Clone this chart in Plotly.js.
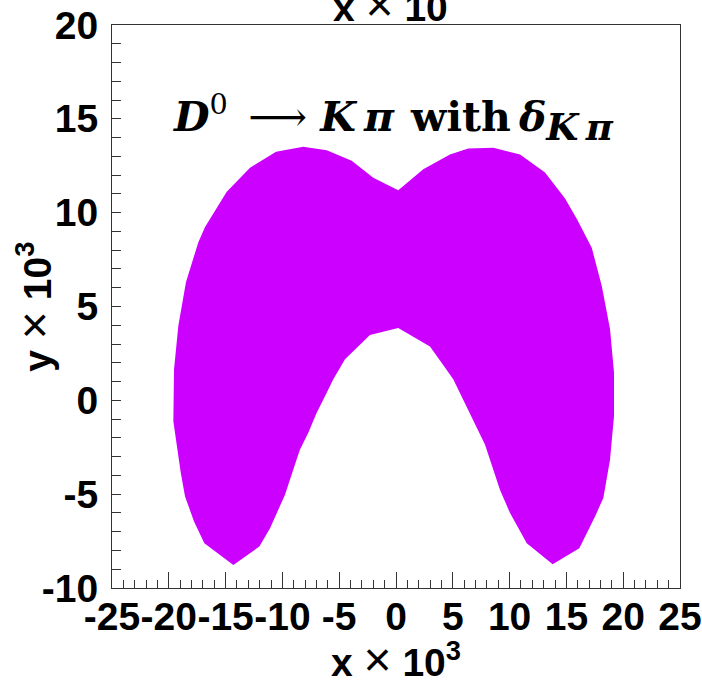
<!DOCTYPE html>
<html>
<head>
<meta charset="utf-8">
<script src="https://cdn.plot.ly/plotly-3.0.1.min.js"></script>
<style>
html,body{margin:0;padding:0;background:#fff;}
#chart{width:702px;height:686px;}
</style>
</head>
<body>
<div id="chart"></div>
<script>
// Contour of the allowed region (x, y in units of 10^-3)
const polyX = [-14.32,-16.87,-17.78,-18.57,-18.95,-19.60,-19.54,-19.16,-18.49,-17.40,-16.81,-16.08,-14.90,-12.85,-10.56,-8.16,-6.10,-3.90,-2.00,0.20,2.40,4.75,6.36,8.57,10.92,13.12,14.88,15.91,17.23,18.11,18.84,19.19,19.19,18.84,18.25,17.52,16.14,13.79,11.51,10.04,9.15,7.83,6.07,5.04,4.31,2.99,0.20,-2.29,-4.49,-5.52,-6.10,-6.98,-7.72,-8.45,-8.80,-9.77,-11.09,-12.03,-14.32];
const polyY = [-8.77,-7.61,-6.45,-5.12,-3.85,-1.11,1.66,3.97,6.29,8.43,9.24,9.95,11.11,12.39,13.25,13.51,13.33,12.76,11.86,11.19,12.32,13.10,13.42,13.46,13.10,12.14,10.75,9.68,8.13,6.11,3.80,1.48,-0.84,-3.16,-5.20,-6.19,-7.88,-8.73,-7.61,-6.01,-4.76,-2.35,-0.12,1.12,1.75,2.87,3.85,3.48,2.19,1.12,0.41,-0.66,-1.73,-2.62,-3.25,-5.03,-6.81,-7.79,-8.77];

// Tick positions and labels (plain hyphen minus, as in the reference)
const xTickVals = [-25, -20, -15, -10, -5, 0, 5, 10, 15, 20, 25];
const xTickText = ['-25', '-20', '-15', '-10', '-5', '0', '5', '10', '15', '20', '25'];
const yTickVals = [-10, -5, 0, 5, 10, 15, 20];
const yTickText = ['-10', '-5', '0', '5', '10', '15', '20'];

const xRange = [-25, 25];
const yRange = [-10, 20];
const timesSign = '<span style="font-weight:normal;font-size:48px">×</span>';
const xTitle = '<b>x</b> ' + timesSign + ' <b>10<sup>3</sup></b>';
const yTitle = '<b>y</b> ' + timesSign + ' <b>10<sup>3</sup></b>';
// copy of the x title at the top edge; only its lower part lies inside the canvas
const topTitle = '<b>x</b> ' + timesSign + ' <b>10</b>';
const chartTitle = '<b><i>D</i></b><sup>0</sup>&#8194;⟶&nbsp;<b><i>K&#8201;π</i></b>&nbsp;&#8202;<b>with</b>&#8201;<b><i>δ</i></b><sub><span style="font-size:37px"><b><i>K&#8201;π</i></b></span></sub>';

const fillColor = '#cc00ff';
const frameColor = '#333333';
const sansFont = 'Liberation Sans, Arial, sans-serif';

const trace = {
  x: polyX, y: polyY,
  type: 'scatter', mode: 'lines',
  fill: 'toself', fillcolor: fillColor,
  line: {width: 0, color: fillColor},
  hoverinfo: 'skip', showlegend: false
};

const layout = {
  width: 702, height: 686,
  margin: {l: 112, r: 22, t: 25, b: 98, pad: 0},
  paper_bgcolor: '#ffffff', plot_bgcolor: '#ffffff',
  showlegend: false,
  xaxis: {
    range: xRange, autorange: false,
    tickmode: 'array', tickvals: xTickVals, ticktext: xTickText, tickangle: 0,
    ticks: 'inside', ticklen: 16, tickwidth: 1, tickcolor: frameColor,
    minor: {dtick: 1, ticks: 'inside', ticklen: 8, tickwidth: 1, tickcolor: frameColor, showgrid: false},
    showline: true, linecolor: frameColor, linewidth: 1, mirror: true,
    showgrid: false, zeroline: false,
    tickfont: {family: sansFont, size: 39, weight: 'bold', color: '#000'},
    ticklabelstandoff: -6,
    title: {text: xTitle, font: {family: sansFont, size: 39, color: '#000'}, standoff: 25},
    automargin: false
  },
  yaxis: {
    range: yRange, autorange: false,
    tickmode: 'array', tickvals: yTickVals, ticktext: yTickText,
    ticks: 'inside', ticklen: 9, tickwidth: 1, tickcolor: frameColor,
    minor: {dtick: 1, ticks: 'inside', ticklen: 9, tickwidth: 1, tickcolor: frameColor, showgrid: false},
    showline: true, linecolor: frameColor, linewidth: 1, mirror: true,
    showgrid: false, zeroline: false,
    tickfont: {family: sansFont, size: 39, weight: 'bold', color: '#000'},
    ticklabelstandoff: 5,
    automargin: false
  },
  annotations: [
    {
      text: yTitle, textangle: -90,
      xref: 'paper', yref: 'paper', x: -0.137, y: 0.5,
      xanchor: 'center', yanchor: 'middle', showarrow: false,
      font: {family: sansFont, size: 39, color: '#000'}
    },
    {
      text: topTitle,
      xref: 'paper', yref: 'paper', x: 0.49, y: 1.0,
      xanchor: 'center', yanchor: 'bottom', yshift: -8, showarrow: false,
      font: {family: sansFont, size: 39, color: '#000'}
    },
    {
      text: chartTitle,
      xref: 'paper', yref: 'paper', x: 0.103, y: 0.835,
      xanchor: 'left', yanchor: 'middle', showarrow: false,
      font: {family: 'DejaVu Serif, serif', size: 41, color: '#000'}
    }
  ]
};

Plotly.newPlot('chart', [trace], layout, {staticPlot: true, displayModeBar: false});
</script>
</body>
</html>
